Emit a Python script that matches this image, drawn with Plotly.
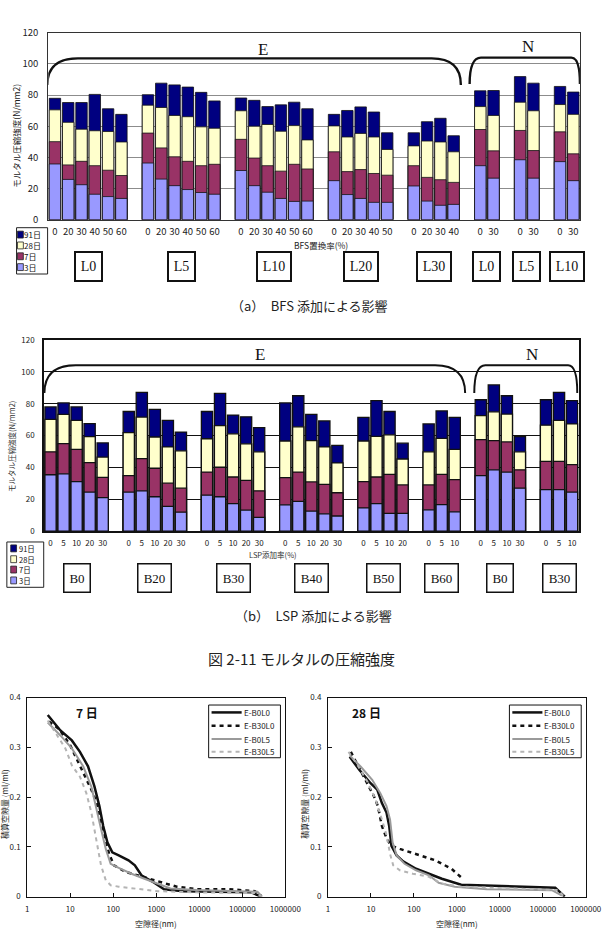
import plotly.graph_objects as go

W, H = 604, 946

# ---------------- data ----------------
ages = ["91日", "28日", "7日", "3日"]

# (a) BFS replacement
a_series = ["E", "E", "E", "E", "E", "N", "N", "N"]
a_groups = ["L0", "L5", "L10", "L20", "L30", "L0", "L5", "L10"]
a_bfs = [[0, 20, 30, 40, 50, 60], [0, 20, 30, 40, 50, 60], [0, 20, 30, 40, 50, 60],
         [0, 20, 30, 40, 50], [0, 20, 30, 40], [0, 30], [0, 30], [0, 30]]
a_3d = [[35.8, 25.9, 22.5, 16.4, 14.9, 13.7], [36.4, 26.1, 21.9, 19.4, 17.5, 16.4],
        [31.6, 21.9, 17.7, 13.7, 11.8, 12.0], [25.1, 16.2, 13.7, 11.2, 11.2],
        [21.7, 12.0, 9.3, 9.9], [34.7, 26.7], [38.5, 26.7], [37.3, 25.1]]
a_7d = [[50.1, 35.2, 37.5, 34.7, 31.8, 28.4], [55.6, 46.1, 40.4, 37.5, 34.7, 35.6],
        [51.6, 39.6, 34.7, 31.2, 35.6, 32.6], [43.6, 30.9, 32.2, 29.7, 28.6],
        [34.7, 27.2, 25.7, 24.0], [57.9, 44.2], [57.3, 44.4], [56.4, 42.3]]
a_28d = [[70.5, 62.5, 58.1, 57.1, 56.6, 49.9], [73.5, 72.0, 66.9, 66.1, 59.6, 58.7],
         [69.9, 60.0, 61.1, 56.8, 60.4, 51.2], [60.2, 53.1, 55.4, 53.1, 45.1],
         [47.4, 50.5, 49.9, 43.6], [72.6, 66.9], [75.4, 69.9], [73.9, 67.6]]
a_91d = [[77.9, 75.2, 75.2, 80.4, 71.2, 67.6], [80.2, 87.6, 86.5, 85.1, 81.7, 76.2],
         [78.1, 76.6, 72.6, 73.7, 75.4, 71.2], [67.6, 70.1, 72.4, 69.1, 55.8],
         [55.8, 62.9, 65.1, 53.9], [82.7, 82.9], [91.8, 87.6], [85.5, 81.9]]

# (b) LSP addition
b_series = ["E", "E", "E", "E", "E", "E", "N", "N"]
b_groups = ["B0", "B20", "B30", "B40", "B50", "B60", "B0", "B30"]
b_lsp = [[0, 5, 10, 20, 30], [0, 5, 10, 20, 30], [0, 5, 10, 20, 30], [0, 5, 10, 20, 30],
         [0, 5, 10, 20], [0, 5, 10], [0, 5, 10, 30], [0, 5, 10]]
b_3d = [[35.4, 36.0, 31.1, 24.5, 21.0], [24.5, 25.3, 21.6, 15.6, 11.9],
        [22.6, 21.6, 17.3, 13.2, 8.6], [16.5, 18.7, 12.6, 10.9, 9.5],
        [14.6, 17.3, 11.1, 11.1], [13.4, 16.7, 12.1], [34.8, 38.5, 37.1, 27.0], [26.1, 26.1, 24.5]]
b_7d = [[49.8, 55.0, 51.3, 43.0, 33.8], [34.8, 45.5, 39.5, 30.1, 27.0],
        [37.1, 40.1, 34.0, 31.9, 25.3], [33.6, 37.1, 30.9, 29.4, 24.1],
        [31.1, 34.0, 35.6, 29.0], [29.0, 35.6, 32.3], [57.4, 56.8, 56.0, 38.5], [43.8, 43.8, 41.8]]
b_28d = [[70.2, 73.3, 69.6, 59.3, 46.5], [61.8, 71.6, 59.1, 52.9, 50.4],
         [58.0, 66.3, 61.1, 54.8, 49.8], [56.6, 65.5, 56.8, 52.9, 42.8],
         [56.6, 59.5, 60.5, 45.3], [49.8, 58.3, 51.3], [72.5, 74.9, 73.5, 49.8], [66.5, 69.6, 67.3]]
b_91d = [[78.0, 80.5, 78.0, 67.5, 55.4], [75.1, 87.1, 76.4, 69.6, 62.2],
         [75.1, 86.5, 72.9, 71.8, 65.0], [80.5, 85.0, 73.3, 69.2, 53.9],
         [71.4, 81.9, 75.1, 55.2], [67.3, 75.5, 71.4], [82.5, 91.8, 85.0, 59.3], [82.5, 87.1, 81.9]]

# (c) cumulative pore volume (ml/ml) vs pore diameter (nm)
pore_names = ["E-B0L0", "E-B30L0", "E-B0L5", "E-B30L5"]
d7_b0l0_x = [3.0, 5.9, 10.9, 16.8, 25.9, 36.5, 47.6, 58.4, 73, 95, 134, 226, 318, 452, 898, 1520, 4270, 48000, 162000, 274000]
d7_b0l0_y = [0.365, 0.334, 0.314, 0.291, 0.262, 0.2215, 0.182, 0.142, 0.109, 0.089, 0.083, 0.073, 0.063, 0.043, 0.028, 0.015, 0.011, 0.0099, 0.0086, 0.0]
d7_b30l0_x = [3.2, 5.5, 10, 20, 31, 40, 52, 65, 80, 104, 190, 380, 900, 3000, 8500, 48000, 195000, 274000]
d7_b30l0_y = [0.352, 0.337, 0.304, 0.251, 0.215, 0.192, 0.155, 0.119, 0.086, 0.063, 0.050, 0.043, 0.033, 0.020, 0.015, 0.015, 0.011, 0.002]
d7_b0l5_x = [3.0, 5.9, 10.9, 20, 31, 40, 52, 67, 87, 134, 265, 530, 1260, 2140, 8500, 115000, 225000, 290000]
d7_b0l5_y = [0.350, 0.324, 0.298, 0.262, 0.221, 0.182, 0.136, 0.096, 0.066, 0.058, 0.046, 0.036, 0.023, 0.0165, 0.0132, 0.0112, 0.0099, 0.0]
d7_b30l5_x = [3.0, 5.0, 7.7, 10.9, 16.8, 23.7, 31, 40, 52, 67, 87, 134, 380, 1070, 8500, 195000, 274000]
d7_b30l5_y = [0.354, 0.324, 0.298, 0.264, 0.241, 0.208, 0.169, 0.116, 0.063, 0.033, 0.023, 0.020, 0.015, 0.011, 0.0086, 0.0073, 0.0]

d28_b0l0_x = [3.2, 5.4, 9.8, 14, 18, 23, 26.6, 30, 39.6, 56, 112, 224, 447, 1260, 5000, 29000, 195000, 324000]
d28_b0l0_y = [0.281, 0.2545, 0.228, 0.215, 0.188, 0.169, 0.142, 0.102, 0.083, 0.071, 0.056, 0.046, 0.036, 0.024, 0.022, 0.020, 0.018, 0.0]
d28_b30l0_x = [3.4, 5.4, 8.3, 11.7, 14.5, 18, 23.4, 30, 47, 110, 315, 750, 1370]
d28_b30l0_y = [0.291, 0.258, 0.228, 0.202, 0.182, 0.142, 0.116, 0.102, 0.096, 0.086, 0.073, 0.056, 0.036]
d28_b0l5_x = [3.2, 5.8, 10.7, 16.5, 23, 27.8, 31.9, 39.6, 60.5, 112, 224, 376, 890, 5000, 162000, 280000]
d28_b0l5_y = [0.284, 0.261, 0.235, 0.208, 0.182, 0.155, 0.109, 0.083, 0.066, 0.053, 0.043, 0.028, 0.020, 0.015, 0.013, 0.002]
d28_b30l5_x = [3.0, 4.9, 8.3, 12.8, 18, 23.4, 27.8, 33, 47, 94, 224, 447, 1260, 29000, 225000, 300000]
d28_b30l5_y = [0.291, 0.264, 0.231, 0.195, 0.155, 0.122, 0.086, 0.063, 0.053, 0.046, 0.040, 0.026, 0.020, 0.0165, 0.0132, 0.002]

pore_ticks = [1, 10, 100, 1000, 10000, 100000, 1000000]
pore_ticktext = ["1", "10", "100", "1000", "10000", "100000", "1000000"]
vol_ticks = [0, 0.1, 0.2, 0.3, 0.4]
vol_ticktext = ["0", "0.1", "0.2", "0.3", "0.4"]
strength_ticks = [0, 20, 40, 60, 80, 100, 120]

# ---------------- styles ----------------
age_colors = ["#000080", "#FFFFCC", "#993366", "#9999FF"]
JP = "Noto Sans CJK JP"
SERIF = "Liberation Serif"


def px(p):
    return p / W


def py(p):
    return 1 - p / H


def slots(rate_lists):
    xs, centers = [], []
    pos = 0
    for rates in rate_lists:
        g = list(range(pos, pos + len(rates)))
        xs.extend(g)
        centers.append((g[0] + g[-1]) / 2)
        pos += len(rates) + 1
    return xs, centers, pos - 1


def flat(nested):
    return [v for grp in nested for v in grp]


fig = go.Figure()
shapes = []
annotations = []


def text(x, y, s, size, color="#222222", family=JP, angle=0, xanchor="center", **kw):
    annotations.append(dict(x=x, y=y, text=s, textangle=angle, xanchor=xanchor, yanchor="middle",
                            font=dict(family=family, size=size, color=color), **kw))


def bar_panel(xa, ya, rates, vals, groups, line_w, box_y, box_font, box_bw, leg):
    xs, centers, nslots = slots(rates)
    for name, color, v in zip(ages, age_colors, vals):
        fig.add_trace(go.Bar(
            x=xs, y=flat(v), name=name, marker=dict(color=color, line=dict(color="#111111", width=line_w)),
            width=0.86, xaxis=xa, yaxis=ya, showlegend=False,
            hovertemplate=name + ": %{y}<extra></extra>"))
    for c, g in zip(centers, groups):
        annotations.append(dict(
            x=c, y=py(box_y), xref=xa, yref="paper", text=g, showarrow=False,
            font=dict(family=SERIF, size=box_font, color="#111111"),
            bordercolor="#111111", borderwidth=box_bw, borderpad=0,
            width=11 + 7 * len(g), height=27, align="center", valign="middle",
            bgcolor="white", xanchor="center", yanchor="middle"))
    # manual legend (box + swatches + labels)
    x0, y0, x1, y1, sx, tx, ys, fs = leg
    shapes.append(dict(type="rect", xref="paper", yref="paper", x0=px(x0), x1=px(x1),
                       y0=py(y1), y1=py(y0), line=dict(color="#222222", width=1), fillcolor="white"))
    for name, color, yy in zip(ages, age_colors, ys):
        shapes.append(dict(type="rect", xref="paper", yref="paper", x0=px(sx), x1=px(sx + 6),
                           y0=py(yy + 3.5), y1=py(yy - 3.5), line=dict(color="#222222", width=0.8),
                           fillcolor=color))
        text(px(tx), py(yy), name, fs, color="#111111", xanchor="left", borderpad=0)
    return xs, nslots


# ---- panel (a) ----
xs_a, n_a = bar_panel("x", "y", a_bfs, [a_91d, a_28d, a_7d, a_3d], a_groups, 0.8, 262, 14, 2,
                      (15, 223, 47, 270, 16, 22, [230, 241, 252, 263], 8))
# ---- panel (b) ----
xs_b, n_b = bar_panel("x2", "y2", b_lsp, [b_91d, b_28d, b_7d, b_3d], b_groups, 1.3, 579, 13, 1.5,
                      (5, 542, 43, 588, 9, 16, [548.5, 559.5, 570, 581], 7.5))


def bracket(xa, ya, x0, x1, yb, yt, dl, dr, w):
    path = (f"M {x0},{yb} Q {x0},{yt} {x0 + dl},{yt} L {x1 - dr},{yt} "
            f"Q {x1},{yt} {x1},{yb}")
    shapes.append(dict(type="path", path=path, xref=xa, yref=ya,
                       line=dict(color="#111111", width=w)))


bracket("x", "y", -0.57, 30.54, 86.5, 103.5, 2.3, 2.2, 2.4)
bracket("x", "y", 31.2, 39.5, 87.0, 104.0, 0.85, 0.65, 2.4)
bracket("x2", "y2", -0.47, 31.8, 86.7, 104.2, 2.4, 2.3, 2.0)
bracket("x2", "y2", 32.5, 40.4, 86.7, 104.2, 0.85, 0.7, 2.0)

for xa, ya, xe, ye, xn, yn in [("x", "y", 15.65, 109.5, 35.6, 111), ("x2", "y2", 16.1, 110.7, 36.9, 110.7)]:
    text(xe, ye, "E", 17, color="#111111", family=SERIF, xref=xa, yref=ya)
    text(xn, yn, "N", 17, color="#111111", family=SERIF, xref=xa, yref=ya)

# ---- panel (c) lines ----
line_styles = [dict(color="#111111", width=2.5),
               dict(color="#111111", width=2.5, dash="4px,4px"),
               dict(color="#9a9a9a", width=2.0),
               dict(color="#b4b4b4", width=2.0, dash="4px,4px")]
d7_sets = [(d7_b0l0_x, d7_b0l0_y), (d7_b30l0_x, d7_b30l0_y), (d7_b0l5_x, d7_b0l5_y), (d7_b30l5_x, d7_b30l5_y)]
d28_sets = [(d28_b0l0_x, d28_b0l0_y), (d28_b30l0_x, d28_b30l0_y), (d28_b0l5_x, d28_b0l5_y), (d28_b30l5_x, d28_b30l5_y)]
for name, st, (xx, yy) in zip(pore_names, line_styles, d7_sets):
    fig.add_trace(go.Scatter(x=xx, y=yy, mode="lines", name=name, line=st, xaxis="x3", yaxis="y3",
                             showlegend=False))
for name, st, (xx, yy) in zip(pore_names, line_styles, d28_sets):
    fig.add_trace(go.Scatter(x=xx, y=yy, mode="lines", name=name, line=st, xaxis="x4", yaxis="y4",
                             showlegend=False))

# manual legends for the line charts
for bx in (213, 523):
    shapes.append(dict(type="rect", xref="paper", yref="paper", x0=px(bx), x1=px(bx + 74),
                       y0=py(761), y1=py(707.5), line=dict(color="#111111", width=1), fillcolor="white"))
    for name, st, yy in zip(pore_names, line_styles, [715, 728.5, 742, 755]):
        shapes.append(dict(type="line", xref="paper", yref="paper", x0=px(bx + 3), x1=px(bx + 34),
                           y0=py(yy), y1=py(yy), line=st))
        text(px(bx + 35), py(yy), name, 8, color="#222222", xanchor="left", borderpad=0)

# ---------------- axes ----------------
tickfont_a = dict(family=JP, size=9.5, color="#222222")
tickfont_b = dict(family=JP, size=8, color="#222222")
tickfont_c = dict(family=JP, size=8, color="#222222")

xaxis_common = dict(showgrid=False, zeroline=False, showline=True, mirror=True, ticks="")

layout = dict(
    width=W, height=H, margin=dict(l=0, r=0, t=0, b=0),
    paper_bgcolor="white", plot_bgcolor="white", barmode="overlay", bargap=0.1,
    showlegend=False,
    xaxis=dict(domain=[px(47.7), px(595.7)], range=[-0.5, n_a - 0.5], tickmode="array",
               tickvals=xs_a, ticktext=[str(v) for v in flat(a_bfs)], tickfont=tickfont_a,
               linecolor="#333333", linewidth=1, ticklabelstandoff=3, anchor="y", **xaxis_common),
    yaxis=dict(domain=[py(215), py(25)], range=[0, 120], tickvals=strength_ticks, tickfont=tickfont_a,
               showgrid=True, gridcolor="#8c8c8c", gridwidth=1, zeroline=False, showline=True,
               mirror=True, linecolor="#333333", linewidth=1, ticks="", ticklabelstandoff=7, anchor="x"),
    xaxis2=dict(domain=[px(43.3), px(594.3)], range=[-0.5, n_b - 0.5], tickmode="array",
                tickvals=xs_b, ticktext=[str(v) for v in flat(b_lsp)], tickfont=tickfont_b,
                linecolor="#111111", linewidth=1.5, ticklabelstandoff=4, anchor="y2", **xaxis_common),
    yaxis2=dict(domain=[py(531), py(337)], range=[0, 120], tickvals=strength_ticks, tickfont=tickfont_b,
                showgrid=True, gridcolor="#111111", gridwidth=1.2, zeroline=False, showline=True,
                mirror=True, linecolor="#111111", linewidth=1.5, ticks="", ticklabelstandoff=6, anchor="x2"),
    xaxis3=dict(type="log", domain=[px(26), px(292)], range=[0, 6], tickvals=pore_ticks,
                ticktext=pore_ticktext, tickfont=tickfont_c, showgrid=False, zeroline=False,
                showline=True, mirror=True, linecolor="#111111", linewidth=1, ticks="inside",
                ticklen=4, tickcolor="#111111", ticklabelstandoff=5, anchor="y3"),
    yaxis3=dict(domain=[py(902), py(700)], range=[0, 0.4], tickvals=vol_ticks, ticktext=vol_ticktext,
                tickfont=tickfont_c, showgrid=False, zeroline=False, showline=True, mirror=True,
                linecolor="#111111", linewidth=1, ticks="inside", ticklen=4, tickcolor="#111111",
                ticklabelstandoff=4, anchor="x3"),
    xaxis4=dict(type="log", domain=[px(336), px(601.7)], range=[0, 6], tickvals=pore_ticks,
                ticktext=pore_ticktext, tickfont=tickfont_c, showgrid=False, zeroline=False,
                showline=True, mirror=True, linecolor="#111111", linewidth=1, ticks="inside",
                ticklen=4, tickcolor="#111111", ticklabelstandoff=5, anchor="y4"),
    yaxis4=dict(domain=[py(902), py(700)], range=[0, 0.4], tickvals=vol_ticks, ticktext=vol_ticktext,
                tickfont=tickfont_c, showgrid=False, zeroline=False, showline=True, mirror=True,
                linecolor="#111111", linewidth=1, ticks="inside", ticklen=4, tickcolor="#111111",
                ticklabelstandoff=4, anchor="x4"),
)

# axis titles & captions as text
text(px(15), py(130), "モルタル圧縮強度(N/mm2)", 8.5, angle=-90)
text(px(329), py(241), "BFS置換率(%)", 8.5)
text(px(317), py(302), "（a）　BFS 添加による影響", 13)
text(px(10), py(445), "モルタル圧縮強度(N/mm2)", 7.5, color="#333333", angle=-90)
text(px(279), py(555), "LSP添加率(%)", 7.5, color="#333333")
text(px(321), py(617), "（b）　LSP 添加による影響", 13)
text(px(309), py(660), "図 2-11 モルタルの圧縮強度", 15)
text(px(2), py(808), "積算空隙量 (ml/ml)", 8, angle=-90)
text(px(311), py(808), "積算空隙量 (ml/ml)", 8, angle=-90)
text(px(159), py(929), "空隙径(nm)", 8)
text(px(469), py(929), "空隙径(nm)", 8)
text(px(87.5), py(715), "<b>7 日</b>", 12, color="#111111")
text(px(376), py(715), "<b>28 日</b>", 12, color="#111111")

for an in annotations:
    an.setdefault("xref", "paper")
    an.setdefault("yref", "paper")
    an.setdefault("showarrow", False)

layout["shapes"] = shapes
layout["annotations"] = annotations
fig.update_layout(**layout)
fig.write_html("out.html")
